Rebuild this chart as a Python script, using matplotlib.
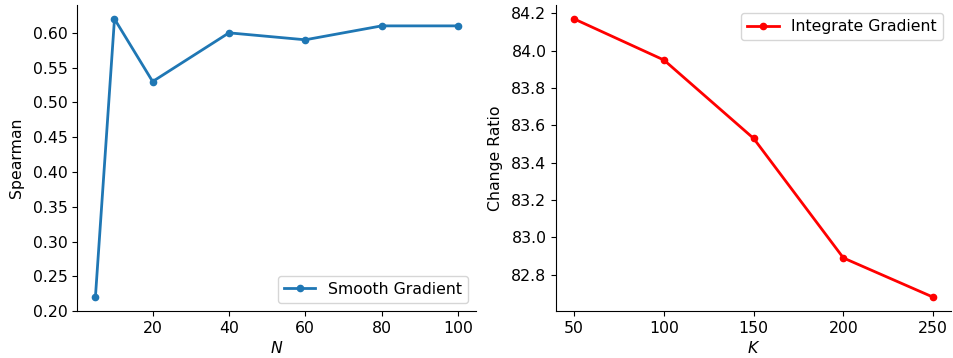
import matplotlib
matplotlib.use("Agg")
import matplotlib.pyplot as plt

n_values = [5, 10, 20, 40, 60, 80, 100]
spearman = [0.22, 0.62, 0.53, 0.60, 0.59, 0.61, 0.61]
k_values = [50, 100, 150, 200, 250]
change_ratio = [84.17, 83.95, 83.53, 82.89, 82.68]

plt.rcParams['font.size'] = 11.3

fig = plt.figure(figsize=(9.54, 3.58), dpi=100)
ax1 = fig.add_axes([0.081, 0.131, 0.418, 0.855])
ax2 = fig.add_axes([0.583, 0.131, 0.414, 0.855])

ax1.plot(n_values, spearman, marker='o', markersize=4.5, linewidth=2, color='#1f77b4', label='Smooth Gradient')
ax1.set_xlabel('$N$', labelpad=3)
ax1.set_ylabel('Spearman', labelpad=6)
ax1.set_xticks([20, 40, 60, 80, 100])
ax1.set_ylim(0.20, 0.64)
ax1.legend(loc='lower right', borderpad=0.4)

ax2.plot(k_values, change_ratio, marker='o', markersize=4.5, linewidth=2, color='red', label='Integrate Gradient')
ax2.set_xlabel('$K$', labelpad=3)
ax2.set_ylabel('Change Ratio', labelpad=6)
ax2.set_xticks([50, 100, 150, 200, 250])
ax2.legend(loc='upper right', borderpad=0.4)

for ax in (ax1, ax2):
    ax.spines['top'].set_visible(False)
    ax.spines['right'].set_visible(False)

fig.savefig('out.png', dpi=100)
